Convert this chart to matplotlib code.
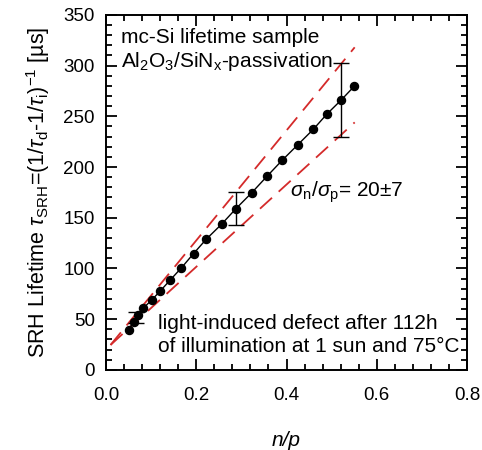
import numpy as np
import matplotlib
matplotlib.use("Agg")
import matplotlib.pyplot as plt
from matplotlib.ticker import MultipleLocator, FormatStrFormatter

plt.rcParams['font.family'] = ['Liberation Sans', 'DejaVu Sans']
plt.rcParams['mathtext.fontset'] = 'custom'
plt.rcParams['mathtext.rm'] = 'Liberation Sans'
plt.rcParams['mathtext.it'] = 'Liberation Sans:italic'
plt.rcParams['mathtext.sf'] = 'Liberation Sans'

# measured data (n/p, tau_SRH in us)
n_p = [0.050, 0.061, 0.071, 0.082, 0.101, 0.120, 0.142, 0.167, 0.194, 0.222,
       0.256, 0.288, 0.323, 0.357, 0.390, 0.425, 0.459, 0.489, 0.521, 0.550]
tau = [39.5, 47.5, 54.0, 60.7, 68.8, 77.7, 88.5, 100.6, 114.7, 128.8,
       143.6, 159.0, 174.7, 191.0, 206.5, 222.0, 237.0, 252.0, 266.0, 279.6]

# error bars
err_x = [0.066, 0.288, 0.521]
err_lo = [46.0, 142.6, 229.4]
err_hi = [57.5, 175.2, 302.5]

# bounds for sigma_n/sigma_p = 20 +/- 7
bound_x = [0.010, 0.551]
upper_y = [24.6, 318.0]
lower_y = [24.6, 244.0]

fig = plt.figure(figsize=(4.82, 4.5), dpi=100)
ax = fig.add_axes([0.22, 0.178, 0.749, 0.789])

ax.plot(bound_x, upper_y, color='#d42a2a', lw=1.3, dashes=(9, 5))
ax.plot(bound_x, lower_y, color='#d42a2a', lw=1.3, dashes=(9, 5))
ax.plot(n_p, tau, 'k-', lw=1.0, marker='o', ms=5.8)

mid = [(a + b) / 2 for a, b in zip(err_lo, err_hi)]
half = [(b - a) / 2 for a, b in zip(err_lo, err_hi)]
ax.errorbar(err_x, mid, yerr=half, fmt='none', ecolor='k', elinewidth=1.0,
            capsize=5.5, capthick=1.0)

ax.set_xlim(0, 0.8)
ax.set_ylim(0, 350)
ax.xaxis.set_major_locator(MultipleLocator(0.2))
ax.xaxis.set_minor_locator(MultipleLocator(0.04))
ax.yaxis.set_major_locator(MultipleLocator(50))
ax.yaxis.set_minor_locator(MultipleLocator(10))
ax.xaxis.set_major_formatter(FormatStrFormatter('%.1f'))
ax.tick_params(which='both', direction='in', top=True, right=True, width=1.3)
ax.tick_params(which='major', length=8, labelsize=13.5)
ax.tick_params(which='minor', length=4.5)
ax.tick_params(axis='x', pad=12)
ax.tick_params(axis='y', pad=8)
for s in ax.spines.values():
    s.set_linewidth(1.4)

ax.set_xlabel('n/p', fontsize=15, style='italic', labelpad=20)
ax.set_ylabel(r'SRH Lifetime $\tau_{\mathrm{SRH}}$=(1/$\tau_{\mathrm{d}}$-1/$\tau_{\mathrm{i}}$)$^{-1}$ [µs]',
              fontsize=15.5, labelpad=8)

ax.text(0.042, 0.936, 'mc-Si lifetime sample', transform=ax.transAxes,
        fontsize=15, va='center')
ax.text(0.042, 0.868, r'Al$_2$O$_3$/SiN$_\mathrm{x}$-passivation', transform=ax.transAxes,
        fontsize=15, va='center')
ax.text(0.51, 0.501, r'$\sigma_\mathrm{n}$/$\sigma_\mathrm{p}$= 20±7', transform=ax.transAxes,
        fontsize=15, va='center')
ax.text(0.144, 0.132, 'light-induced defect after 112h', transform=ax.transAxes,
        fontsize=15, va='center')
ax.text(0.144, 0.065, 'of illumination at 1 sun and 75°C', transform=ax.transAxes,
        fontsize=15, va='center')

fig.savefig('out.png', dpi=100)
